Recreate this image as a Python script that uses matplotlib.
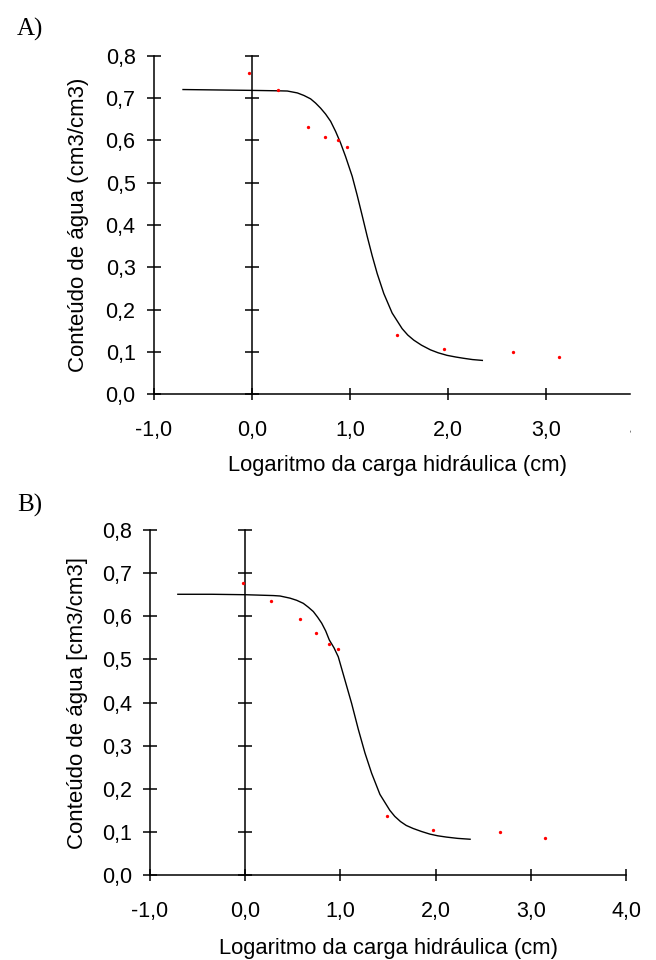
from __future__ import annotations

import matplotlib

matplotlib.use("Agg")
import matplotlib.pyplot as plt
from matplotlib.transforms import Bbox, TransformedBbox

plt.rcParams["font.family"] = ["Liberation Sans", "DejaVu Sans"]

Y_TICKS = [0.0, 0.1, 0.2, 0.3, 0.4, 0.5, 0.6, 0.7, 0.8]
X_TICKS = [-1.0, 0.0, 1.0, 2.0, 3.0, 4.0]
X_LABEL = "Logaritmo da carga hidráulica (cm)"

# Panel A: measured points and fitted curve
a_obs_x = [-0.03, 0.27, 0.57, 0.745, 0.875, 0.966, 1.48, 1.957, 2.66, 3.13]
a_obs_y = [0.760, 0.718, 0.632, 0.608, 0.600, 0.585, 0.139, 0.106, 0.100, 0.087]
a_fit_x = [-0.70, -0.35, 0.00, 0.27, 0.363, 0.465, 0.532, 0.60, 0.651, 0.702,
           0.753, 0.804, 0.855, 0.905, 0.956, 1.024, 1.075, 1.126, 1.177,
           1.228, 1.279, 1.346, 1.431, 1.533, 1.59, 1.651, 1.73, 1.821, 1.90,
           1.99, 2.08, 2.16, 2.25, 2.35]
a_fit_y = [0.720, 0.719, 0.718, 0.717, 0.7165, 0.712, 0.706, 0.698, 0.688, 0.676,
           0.662, 0.645, 0.621, 0.594, 0.562, 0.515, 0.470, 0.422, 0.373,
           0.327, 0.285, 0.238, 0.192, 0.155, 0.140, 0.128, 0.116, 0.105, 0.098,
           0.092, 0.088, 0.085, 0.082, 0.080]

# Panel B
b_obs_x = [-0.027, 0.272, 0.572, 0.748, 0.88, 0.972, 1.487, 1.967, 2.672, 3.143]
b_obs_y = [0.677, 0.635, 0.594, 0.562, 0.535, 0.524, 0.138, 0.105, 0.100, 0.087]
b_fit_x = [-0.706, -0.35, 0.00, 0.297, 0.366, 0.471, 0.541, 0.61, 0.663, 0.715,
           0.76, 0.803, 0.845, 0.883, 0.932, 0.977, 1.047, 1.117, 1.187,
           1.257, 1.327, 1.414, 1.518, 1.57, 1.63, 1.69, 1.762, 1.85, 1.937,
           2.02, 2.112, 2.23, 2.36]
b_fit_y = [0.651, 0.651, 0.650, 0.648, 0.647, 0.642, 0.637, 0.630, 0.621, 0.611,
           0.598, 0.584, 0.566, 0.545, 0.527, 0.506, 0.452, 0.398, 0.338,
           0.283, 0.236, 0.187, 0.150, 0.136, 0.124, 0.115, 0.108, 0.101, 0.095,
           0.091, 0.088, 0.085, 0.083]


def _fmt(v: float) -> str:
    return f"{v:.1f}".replace(".", ",")


def _panel(ax, obs_x, obs_y, fit_x, fit_y, ylabel: str, xmax: float, ylab_x: float) -> None:
    ax.plot(fit_x, fit_y, color="black", lw=1.0, zorder=3, clip_on=False,
            solid_joinstyle="round")
    ax.plot(obs_x, obs_y, "o", color="red", ms=2.4, mew=0, zorder=4, clip_on=False)

    ax.set_xlim(-1.0, xmax)
    ax.set_ylim(0.0, 0.8)

    ax.spines["top"].set_visible(False)
    ax.spines["right"].set_position(("data", 0.0))
    for sp in ("left", "right", "bottom"):
        ax.spines[sp].set_linewidth(1.1)

    xt = [t for t in X_TICKS if t <= xmax + 1e-9]
    ax.set_xticks(xt)
    ax.set_xticklabels([_fmt(t) for t in xt])
    ax.set_yticks(Y_TICKS)
    ax.set_yticklabels([_fmt(t) for t in Y_TICKS])

    ax.tick_params(axis="x", direction="inout", length=9, width=1.1, pad=14, labelsize=15.5)
    ax.tick_params(axis="y", direction="inout", length=10, width=1.1, pad=8, labelsize=15.5,
                   right=True, labelright=False)

    ax.set_xlabel(X_LABEL, fontsize=15.8)
    ax.set_ylabel(ylabel, fontsize=16)
    ax.yaxis.set_label_coords(ylab_x, 0.5)


def main() -> None:
    fig = plt.figure(figsize=(6.56, 9.6), dpi=100)

    ax_a = fig.add_axes([0.2341, 0.5893, 0.7263, 0.3527])
    _panel(ax_a, a_obs_x, a_obs_y, a_fit_x, a_fit_y, "Conteúdo de água (cm3/cm3)", 3.855, -0.136)
    ax_a.xaxis.set_label_coords(0.512, -0.179)

    # "4,0" label of panel A is cut by the right edge of the picture
    t = ax_a.text(4.0, -0.0768, "4,0", fontsize=15.5, ha="center", va="top",
                  transform=ax_a.get_xaxis_transform())
    t.set_clip_on(True)
    t.set_clip_box(TransformedBbox(Bbox([[0, 0], [631 / 656, 1]]), fig.transFigure))

    ax_b = fig.add_axes([0.2284, 0.0885, 0.7265, 0.3594])
    _panel(ax_b, b_obs_x, b_obs_y, b_fit_x, b_fit_y, "Conteúdo de água [cm3/cm3]", 4.0, -0.130)
    ax_b.xaxis.set_label_coords(0.5, -0.183)

    fig.text(0.026, 0.9625, "A)", family="Liberation Serif", fontsize=18, ha="left", va="baseline")
    fig.text(0.026, 0.467, "B)", family="Liberation Serif", fontsize=18, ha="left", va="baseline")

    fig.savefig("out.png", dpi=100)
    plt.close(fig)


if __name__ == "__main__":
    main()
